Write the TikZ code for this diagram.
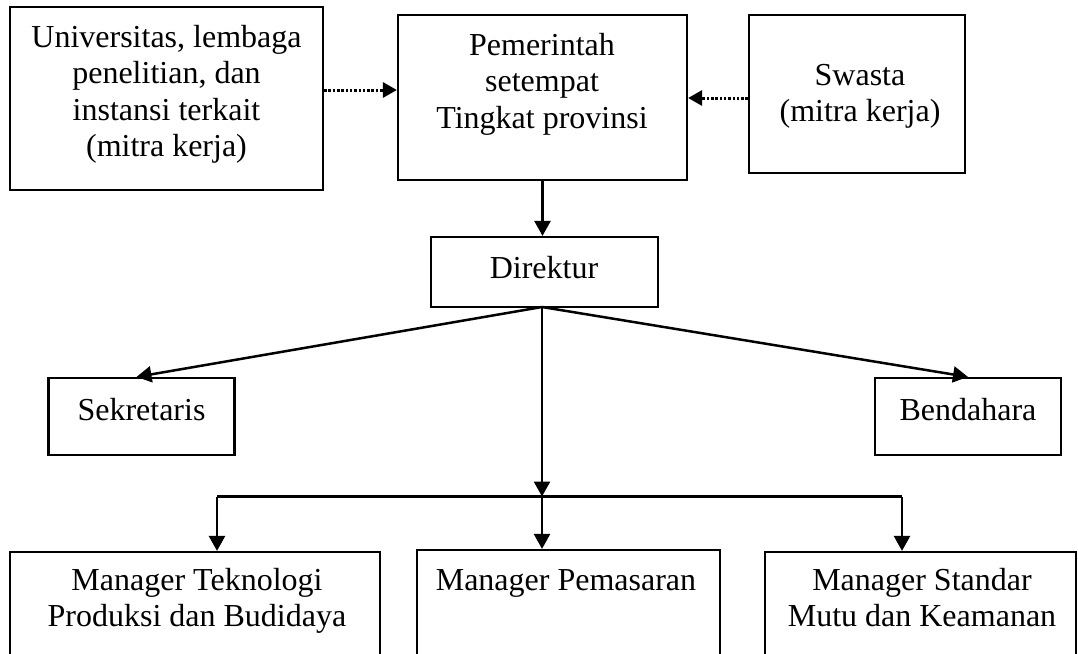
\documentclass[tikz,border=0pt]{standalone}
\usepackage{fontspec}
\setmainfont{Liberation Serif}
\usetikzlibrary{arrows.meta}
\begin{document}
\begin{tikzpicture}[x=1pt,y=-1pt,
  box/.style={draw, line width=2.2pt, inner sep=0pt},
  txt/.style={inner sep=0pt, align=center, font=\fontsize{32}{36.5}\selectfont},
  arr/.style={line width=2.5pt, -{Triangle[length=15pt,width=16pt]}},
  dotarr/.style={line width=3pt, dash pattern=on 2.5pt off 1.8pt, -{Triangle[length=14pt,width=15pt]}},
  plain/.style={line width=2.2pt}]
\clip (0,0) rectangle (1078,653);
\fill[white] (0,0) rectangle (1078,653);
% boxes
\node[box, minimum width=313pt, minimum height=183pt] (univ) at (166.5,98.5) {};
\node[box, minimum width=289pt, minimum height=165pt] (gov) at (542.5,97.5) {};
\node[box, minimum width=216pt, minimum height=158pt] (swasta) at (857,94) {};
\node[box, minimum width=227pt, minimum height=70pt] (dir) at (544.5,272) {};
\node[box, minimum width=186pt, minimum height=77pt] (sek) at (141.5,416.5) {};
\node[box, minimum width=186pt, minimum height=77pt] (bend) at (968,416.5) {};
\node[box, minimum width=370pt, minimum height=148pt] (m1) at (195,626) {};
\node[box, minimum width=303pt, minimum height=150pt] (m2) at (568.5,625) {};
\node[box, minimum width=311pt, minimum height=148pt] (m3) at (920.5,626) {};
% texts
\node[txt, anchor=north] (univt) at (166.5,25) {Universitas, lembaga\\penelitian, dan\\instansi terkait\\(mitra kerja)};
\node[txt, anchor=north] (govt) at (542,33) {Pemerintah\\setempat\\Tingkat provinsi};
\node[txt, anchor=north] (swastat) at (860,64) {Swasta\\(mitra kerja)};
\node[txt, anchor=base] (dirt) at (544,278) {Direktur};
\node[txt, anchor=base] (sekt) at (141.5,420) {Sekretaris};
\node[txt, anchor=base] (bendt) at (968,420) {Bendahara};
\node[txt, anchor=north] (m1t) at (197,568) {Manager Teknologi\\Produksi dan Budidaya};
\node[txt, anchor=base] (m2t) at (566,590) {Manager Pemasaran};
\node[txt, anchor=north] (m3t) at (922,568) {Manager Standar\\Mutu dan Keamanan};
% connectors
\draw[dotarr] ([yshift=8.5pt]univ.east) -- ([yshift=8.5pt]univ.east -| gov.west);
\draw[dotarr] ([yshift=-4pt]swasta.west) -- ([yshift=-4pt]swasta.west -| gov.east);
\draw[arr] (gov.south) -- (gov.south |- dir.north);
\coordinate (top) at (542,307);
\coordinate (hub) at (542,496.5);
\coordinate (hl) at (217,496.5);
\coordinate (hr) at (902,496.5);
\draw[arr] (top) -- ([xshift=-5pt]sek.north);
\draw[arr] (top) -- (bend.north);
\draw[arr] (top) -- (hub);
\draw[plain] (hl) -- (hr);
\draw[arr] (hl) -- (hl |- m1.north);
\draw[arr] (hub) -- (hub |- m2.north);
\draw[arr] (hr) -- (hr |- m3.north);
\end{tikzpicture}
\end{document}
